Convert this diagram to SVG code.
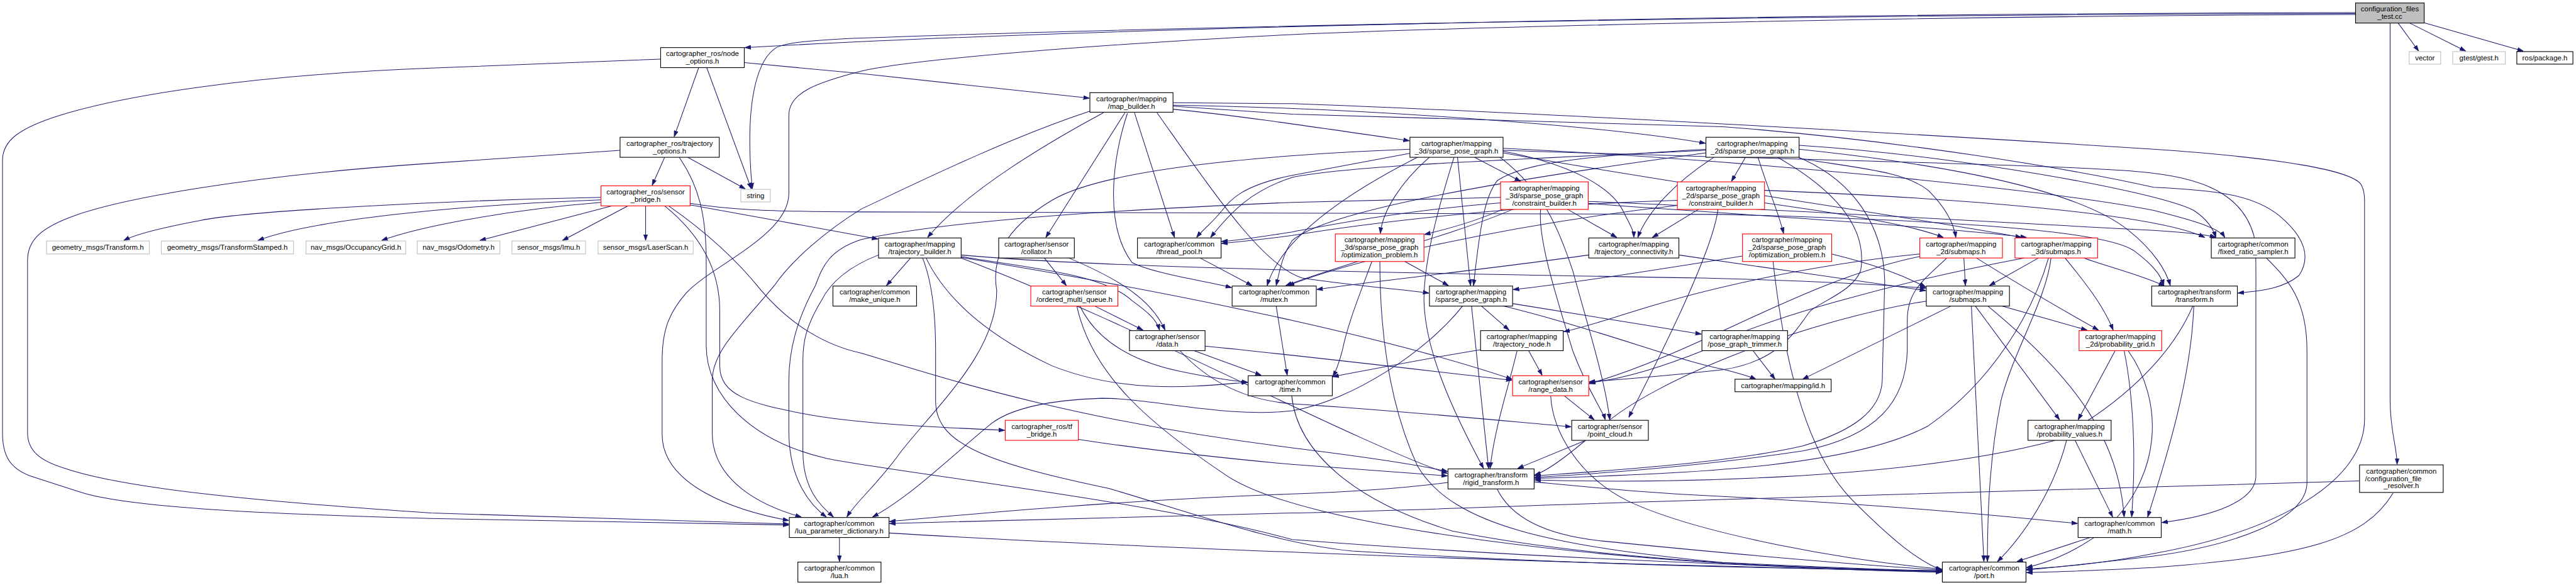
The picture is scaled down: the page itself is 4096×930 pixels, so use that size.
<svg xmlns="http://www.w3.org/2000/svg" width="4096" height="930" viewBox="0 0 4096 930">
<defs>
<marker id="a" markerWidth="12" markerHeight="9" refX="12" refY="4.5" orient="auto" markerUnits="userSpaceOnUse"><path d="M0,0.5 L12,4.5 L0,8.5 z" fill="#191970" stroke="#191970" stroke-width="1"/></marker>
<style>
.n rect{fill:#fff;stroke:#000;stroke-width:1.4}
.n.r rect{stroke:#f00}
.n.g rect{stroke:#bfbfbf}
.n.root rect{fill:#bfbfbf}
text{font-family:"Liberation Sans",Arial,sans-serif;font-size:14.4px;fill:#000;text-anchor:middle}
#edges path{fill:none;stroke:#191970;stroke-width:1.3;marker-end:url(#a)}
</style>
</defs>
<rect x="0" y="0" width="4096" height="930" fill="#fff"/>
<g transform="scale(0.7964)">
<g id="edges">
<path d="M4788,46 L4829,102"/>
<path d="M4811,46 L4923,102"/>
<path d="M4838,45 L5038,102"/>
<path d="M4772,46 L4772,800 C4772,860 4786,895 4786,927"/>
<path d="M4703,25 C3600,27 2300,50 1487,95"/>
<path d="M4703,27 C3500,29 2300,55 1720,76 C1620,80 1570,85 1550,95 C1510,120 1497,200 1497,280 C1497,330 1500,355 1502,377"/>
<path d="M4703,29 C3800,32 2900,55 2580,69 C2200,88 1820,118 1720,142 C1630,165 1575,185 1575,230 L1575,386 C1575,470 1420,530 1370,585 C1335,625 1322,660 1322,720 L1322,867 C1322,970 1470,1020 1575,1039"/>
<path d="M1319,118 L860,136 C500,150 250,190 120,230 C40,255 5,280 5,320 L5,864 C5,910 20,935 60,950 L159,982 C250,1012 500,1025 860,1035 L1575,1048"/>
<path d="M1395,135 L1346,273"/>
<path d="M1411,135 L1500,377"/>
<path d="M1486,125 L1720,147 L2175,196"/>
<path d="M1327,314 L1302,370"/>
<path d="M1373,314 L1488,377"/>
<path d="M1238,300 L860,326 C500,350 250,395 150,430 C80,455 55,480 55,520 L55,864 C55,900 80,920 130,935 C250,975 500,1000 860,1024 L1575,1046"/>
<path d="M1356,314 C1395,370 1410,430 1410,520 L1410,690 C1410,790 1500,880 1650,915 C1800,945 2300,1000 2580,1077 C3000,1110 3500,1130 3877,1141"/>
<path d="M1200,394 C900,400 500,420 400,440 C320,455 270,468 247,480"/>
<path d="M1200,399 C900,410 620,440 515,480"/>
<path d="M1200,404 C1000,420 830,455 762,480"/>
<path d="M1222,411 L958,480"/>
<path d="M1254,411 L1123,480"/>
<path d="M1289,411 L1289,480"/>
<path d="M1378,409 L1560,442 C1650,458 1700,468 1753,477"/>
<path d="M1378,406 C1450,418 1520,422 1720,423 L3440,428 C3900,440 4200,460 4260,500 C4300,530 4315,550 4320,570"/>
<path d="M1327,411 C1400,470 1437,540 1437,620 L1437,730 C1437,790 1500,805 1600,825 C1700,845 1850,852 2006,859"/>
<path d="M1335,411 C1420,470 1480,530 1520,580 C1580,650 1650,690 1720,705 C1900,760 2150,840 2580,894 C2750,915 2840,930 2890,941"/>
<path d="M2153,877 C2300,900 2500,920 2580,927 C2750,940 2840,946 2890,950"/>
<path d="M2203,225 C2100,280 1930,380 1852,474"/>
<path d="M2246,225 L2088,474"/>
<path d="M2265,225 L2345,474"/>
<path d="M2251,226 C2220,320 2205,450 2260,524 C2300,545 2400,560 2459,574"/>
<path d="M2176,222 C2000,280 1800,380 1720,417 C1650,460 1580,520 1546,570 C1480,650 1422,700 1422,760 L1422,864 C1422,960 1520,1010 1600,1032"/>
<path d="M2342,205 L2580,207 C3000,222 3800,265 4300,298 C4550,315 4700,340 4715,370 C4720,380 4721,390 4721,400 L4721,837 C4721,960 4550,1060 4300,1105 C4200,1125 4100,1133 4046,1136"/>
<path d="M2342,218 C2450,228 2600,250 2814,281"/>
<path d="M2342,210 C2700,215 3200,250 3405,286"/>
<path d="M2342,212 L2580,228 L3440,253 C3800,280 4150,340 4300,374 C4430,380 4500,390 4550,430 C4610,480 4610,520 4590,550 C4560,575 4520,580 4468,585"/>
<path d="M2310,225 C2420,380 2520,530 2600,555 C2700,570 2800,578 2853,585"/>
<path d="M2085,515 L2129,570"/>
<path d="M2134,515 C2240,560 2300,600 2326,659"/>
<path d="M1818,515 L1770,570"/>
<path d="M1754,509 C1700,530 1660,560 1640,600 C1610,650 1603,680 1603,720 L1603,900 C1603,980 1640,1010 1664,1032"/>
<path d="M1842,515 C1860,560 1868,620 1868,700 L1868,800 C1868,880 1950,920 2214,975 C2400,1030 2550,1085 2700,1100 C3100,1125 3500,1135 3877,1139"/>
<path d="M1849,515 C1880,580 1950,660 2100,730 C2250,790 2400,770 2491,763"/>
<path d="M1919,512 C2050,535 2200,545 2260,600 C2295,625 2310,640 2315,659"/>
<path d="M1919,509 C2200,535 2800,545 3400,555 C3600,560 3750,568 3845,575"/>
<path d="M1919,514 C2200,560 2700,650 3019,757"/>
<path d="M1919,515 C2250,640 2700,880 2890,945"/>
<path d="M2396,515 L2500,570"/>
<path d="M2186,611 L2282,659"/>
<path d="M2156,611 C2190,680 2260,720 2350,740 C2420,755 2460,760 2491,763"/>
<path d="M2150,611 C2180,750 2300,850 2450,950 C2600,1050 3200,1130 3877,1142"/>
<path d="M2384,700 L2518,749"/>
<path d="M2406,691 C2600,710 2850,740 3019,759"/>
<path d="M2356,700 C2420,770 2500,800 2580,806 C2800,820 3000,840 3137,852"/>
<path d="M2548,611 L2570,749"/>
<path d="M2579,790 C2590,900 2700,1000 2900,1060 C3200,1120 3600,1135 3877,1140"/>
<path d="M2944,314 L3036,362"/>
<path d="M2854,314 C2800,360 2760,420 2756,466"/>
<path d="M2910,314 L2936,570"/>
<path d="M2903,314 C2870,420 2843,520 2843,600 C2845,700 2900,820 2962,935"/>
<path d="M3001,302 C3150,330 3220,380 3240,420 C3255,450 3262,460 3262,474"/>
<path d="M2815,306 L2580,350 C2480,370 2455,400 2440,420 C2420,445 2400,460 2389,474"/>
<path d="M2830,314 C2700,380 2560,470 2530,570"/>
<path d="M2815,298 C2500,310 2200,340 2100,400 C2000,460 1980,520 1990,580 C1990,700 1880,800 1800,900 C1750,970 1710,1000 1691,1032"/>
<path d="M3001,296 C3500,320 4100,380 4300,420 C4380,440 4430,455 4442,474"/>
<path d="M3001,305 C3300,360 3800,430 4036,474"/>
<path d="M2995,314 C3080,380 3110,450 3140,540 C3170,650 3205,760 3214,838"/>
<path d="M3001,300 C3600,320 4200,330 4300,346 C4420,360 4480,400 4500,470 C4505,500 4504,530 4504,600 L4504,950 C4504,1000 4420,1030 4316,1043"/>
<path d="M3485,314 L3457,362"/>
<path d="M3510,314 C3530,380 3550,420 3561,466"/>
<path d="M3406,298 C3200,310 3050,320 2990,360 C2965,390 2955,450 2942,570"/>
<path d="M3422,314 C3350,360 3290,420 3270,474"/>
<path d="M3549,314 C3700,400 3725,480 3715,540 C3700,580 3640,600 3615,620 C3590,650 3560,720 3440,738 C3330,750 3230,758 3173,762"/>
<path d="M3591,314 C3700,360 3760,450 3763,560 L3758,760 C3755,820 3700,860 3600,890 C3450,925 3200,940 3064,950"/>
<path d="M3592,290 C3900,310 4300,380 4380,420 C4410,440 4420,460 4424,474"/>
<path d="M3592,316 C3700,335 3800,340 3850,380 C3880,410 3900,440 3905,474"/>
<path d="M3406,300 C3000,320 2700,330 2580,354 C2500,380 2460,420 2417,474"/>
<path d="M3406,305 C3000,360 2650,420 2580,480 C2560,510 2555,540 2548,570"/>
<path d="M3592,298 C3900,330 4150,380 4250,460 C4300,500 4325,540 4333,570"/>
<path d="M3130,418 L3228,474"/>
<path d="M2996,394 C2800,398 2650,402 2580,404 C2200,420 1900,440 1720,478 C1650,500 1640,540 1628,570 C1590,640 1575,700 1575,760 L1575,860 C1575,960 1620,1010 1650,1032"/>
<path d="M3000,418 C2950,440 2900,455 2844,468"/>
<path d="M3076,418 C3070,480 3110,600 3140,700 C3170,780 3200,820 3205,838"/>
<path d="M2996,405 C2800,420 2650,450 2580,463 C2500,475 2470,480 2439,482"/>
<path d="M3171,402 C3600,420 4100,450 4300,460 C4380,465 4410,470 4424,474"/>
<path d="M3171,406 C3500,430 3900,455 4046,474"/>
<path d="M3020,418 C2900,470 2700,520 2567,570"/>
<path d="M3391,418 L3299,474"/>
<path d="M3349,400 C3000,410 2700,450 2580,470 C2520,478 2480,482 2439,486"/>
<path d="M3523,380 C3900,395 4300,425 4402,474"/>
<path d="M3523,405 C3700,430 3820,450 3880,474"/>
<path d="M3349,410 C3000,450 2700,520 2572,570"/>
<path d="M3430,418 C3420,500 3320,700 3252,833"/>
<path d="M2805,522 L2892,570"/>
<path d="M2755,522 C2755,650 2770,800 2830,930 C2900,1050 3100,1090 3440,1123 C3700,1135 3800,1138 3877,1140"/>
<path d="M2739,522 C2710,600 2690,650 2680,700 C2672,730 2665,745 2661,752"/>
<path d="M3479,511 C3300,540 3100,570 3021,578"/>
<path d="M3540,522 C3560,700 3600,900 3700,1000 C3780,1080 3830,1120 3877,1138"/>
<path d="M3657,507 C3750,530 3800,550 3845,573"/>
<path d="M3172,509 C2950,540 2750,560 2629,578"/>
<path d="M3352,509 C3500,530 3700,560 3845,580"/>
<path d="M3921,515 L3924,570"/>
<path d="M3946,515 C4050,580 4120,620 4190,659"/>
<path d="M3833,507 C3600,530 3400,580 3300,610 C3200,640 3160,655 3122,662"/>
<path d="M3887,515 C3840,560 3808,580 3808,640 L3808,700 C3805,800 3750,870 3600,900 C3400,930 3200,945 3064,953"/>
<path d="M3833,512 C3600,560 3400,700 3173,766"/>
<path d="M4070,515 L3972,570"/>
<path d="M4161,515 C4200,530 4280,550 4322,571"/>
<path d="M4095,515 C4085,600 4020,700 3995,800 C3975,900 3968,1000 3968,1121"/>
<path d="M4090,515 C4060,620 3980,760 3850,850 C3700,930 3400,945 3064,955"/>
<path d="M4123,515 C4160,560 4200,610 4219,659"/>
<path d="M4041,515 C3800,560 3500,640 3400,700 C3300,740 3230,758 3173,764"/>
<path d="M4525,515 C4570,560 4606,600 4606,700 L4606,963 C4606,1040 4450,1090 4300,1110 C4180,1125 4100,1132 4046,1138"/>
<path d="M4378,611 C4340,700 4250,800 4100,880 C3800,960 3300,965 3064,958"/>
<path d="M4380,611 C4375,750 4330,900 4288,1032"/>
<path d="M3052,700 L3079,749"/>
<path d="M3029,700 C3010,780 2985,850 2975,935"/>
<path d="M2956,698 C2850,715 2750,735 2661,752"/>
<path d="M2958,611 L3013,659"/>
<path d="M2938,611 L2972,935"/>
<path d="M2920,611 C2850,700 2700,800 2580,820 C2450,835 2300,795 2200,795 C2050,800 2000,830 1980,845 C1900,910 1820,990 1742,1032"/>
<path d="M3002,611 C3200,660 3350,720 3440,737 C3470,745 3490,750 3506,757"/>
<path d="M3020,606 L3397,667"/>
<path d="M3123,790 L3183,838"/>
<path d="M3096,790 C3100,860 3150,950 3250,1000 C3400,1070 3700,1120 3877,1136"/>
<path d="M3166,879 L3030,935"/>
<path d="M3500,700 L3544,757"/>
<path d="M3895,611 L3599,757"/>
<path d="M3936,611 L3961,1121"/>
<path d="M3944,611 L4112,838"/>
<path d="M3969,611 C4150,760 4230,880 4241,1032"/>
<path d="M3997,611 L4167,659"/>
<path d="M3846,601 C3600,640 3300,760 3200,850 C3130,910 3090,940 3064,948"/>
<path d="M4223,700 L4149,838"/>
<path d="M4241,700 C4265,820 4262,950 4256,1032"/>
<path d="M4249,700 C4320,800 4320,950 4200,1060 C4130,1110 4080,1125 4046,1133"/>
<path d="M4143,879 L4218,1032"/>
<path d="M4126,879 C4100,980 4040,1070 3988,1121"/>
<path d="M4173,1073 L4027,1121"/>
<path d="M4711,960 L4300,972 L3440,997 C3000,1010 2800,1020 2580,1024 L1776,1045"/>
<path d="M4778,984 C4720,1080 4600,1110 4300,1133 C4200,1138 4100,1142 4046,1143"/>
<path d="M2891,963 C2800,975 2700,982 2580,986 C2200,1000 1900,1030 1776,1041"/>
<path d="M3063,962 C3200,975 3300,985 3440,991 C3800,1010 4000,1030 4148,1045"/>
<path d="M2989,976 C3020,1040 3100,1070 3200,1080 C3500,1110 3750,1130 3877,1138"/>
<path d="M1676,1073 L1676,1121"/>
<path d="M1775,1064 C2200,1090 3000,1120 3440,1130 C3700,1137 3800,1140 3877,1142"/>
</g>
<g id="n_root" class="n root"><rect x="4703" y="6" width="137" height="40"/><text x="4771.5" y="23">configuration_files</text><text x="4771.5" y="38">_test.cc</text></g>
<g id="n_vector" class="n g"><rect x="4810" y="103" width="63" height="25"/><text x="4841.5" y="120.5">vector</text></g>
<g id="n_gtest" class="n g"><rect x="4897" y="103" width="105" height="25"/><text x="4949.5" y="120.5">gtest/gtest.h</text></g>
<g id="n_rospackage" class="n"><rect x="5025" y="103" width="112" height="25"/><text x="5081" y="120.5">ros/package.h</text></g>
<g id="n_node_options" class="n"><rect x="1319" y="95" width="167" height="40"/><text x="1402.5" y="112">cartographer_ros/node</text><text x="1402.5" y="127">_options.h</text></g>
<g id="n_trajectory_options" class="n"><rect x="1238" y="274" width="198" height="40"/><text x="1337" y="291">cartographer_ros/trajectory</text><text x="1337" y="306">_options.h</text></g>
<g id="n_string" class="n g"><rect x="1479" y="378" width="59" height="25"/><text x="1508.5" y="395.5">string</text></g>
<g id="n_sensor_bridge" class="n r"><rect x="1200" y="371" width="178" height="40"/><text x="1289" y="388">cartographer_ros/sensor</text><text x="1289" y="403">_bridge.h</text></g>
<g id="n_gm_transform" class="n g"><rect x="93" y="481" width="205" height="26"/><text x="195.5" y="499">geometry_msgs/Transform.h</text></g>
<g id="n_gm_transformstamped" class="n g"><rect x="322" y="481" width="264" height="26"/><text x="454" y="499">geometry_msgs/TransformStamped.h</text></g>
<g id="n_occupancygrid" class="n g"><rect x="611" y="481" width="199" height="26"/><text x="710.5" y="499">nav_msgs/OccupancyGrid.h</text></g>
<g id="n_odometry" class="n g"><rect x="833" y="481" width="165" height="26"/><text x="915.5" y="499">nav_msgs/Odometry.h</text></g>
<g id="n_imu" class="n g"><rect x="1022" y="481" width="147" height="26"/><text x="1095.5" y="499">sensor_msgs/Imu.h</text></g>
<g id="n_laserscan" class="n g"><rect x="1194" y="481" width="190" height="26"/><text x="1289" y="499">sensor_msgs/LaserScan.h</text></g>
<g id="n_map_builder" class="n"><rect x="2176" y="185" width="166" height="39"/><text x="2259" y="202">cartographer/mapping</text><text x="2259" y="217">/map_builder.h</text></g>
<g id="n_3d_spg" class="n"><rect x="2815" y="274" width="186" height="40"/><text x="2908" y="291">cartographer/mapping</text><text x="2908" y="306">_3d/sparse_pose_graph.h</text></g>
<g id="n_2d_spg" class="n"><rect x="3406" y="274" width="186" height="40"/><text x="3499" y="291">cartographer/mapping</text><text x="3499" y="306">_2d/sparse_pose_graph.h</text></g>
<g id="n_3d_cb" class="n r"><rect x="2996" y="363" width="175" height="55"/><text x="3083.5" y="380">cartographer/mapping</text><text x="3083.5" y="395">_3d/sparse_pose_graph</text><text x="3083.5" y="410">/constraint_builder.h</text></g>
<g id="n_2d_cb" class="n r"><rect x="3349" y="363" width="174" height="55"/><text x="3436" y="380">cartographer/mapping</text><text x="3436" y="395">_2d/sparse_pose_graph</text><text x="3436" y="410">/constraint_builder.h</text></g>
<g id="n_3d_op" class="n r"><rect x="2666" y="467" width="177" height="55"/><text x="2754.5" y="484">cartographer/mapping</text><text x="2754.5" y="499">_3d/sparse_pose_graph</text><text x="2754.5" y="514">/optimization_problem.h</text></g>
<g id="n_2d_op" class="n r"><rect x="3479" y="467" width="178" height="55"/><text x="3568" y="484">cartographer/mapping</text><text x="3568" y="499">_2d/sparse_pose_graph</text><text x="3568" y="514">/optimization_problem.h</text></g>
<g id="n_trajectory_builder" class="n"><rect x="1754" y="475" width="165" height="40"/><text x="1836.5" y="492">cartographer/mapping</text><text x="1836.5" y="507">/trajectory_builder.h</text></g>
<g id="n_collator" class="n"><rect x="1994" y="475" width="151" height="40"/><text x="2069.5" y="492">cartographer/sensor</text><text x="2069.5" y="507">/collator.h</text></g>
<g id="n_thread_pool" class="n"><rect x="2271" y="475" width="167" height="40"/><text x="2354.5" y="492">cartographer/common</text><text x="2354.5" y="507">/thread_pool.h</text></g>
<g id="n_traj_conn" class="n"><rect x="3172" y="475" width="180" height="40"/><text x="3262" y="492">cartographer/mapping</text><text x="3262" y="507">/trajectory_connectivity.h</text></g>
<g id="n_2d_submaps" class="n r"><rect x="3833" y="475" width="165" height="40"/><text x="3915.5" y="492">cartographer/mapping</text><text x="3915.5" y="507">_2d/submaps.h</text></g>
<g id="n_3d_submaps" class="n r"><rect x="4023" y="475" width="165" height="40"/><text x="4105.5" y="492">cartographer/mapping</text><text x="4105.5" y="507">_3d/submaps.h</text></g>
<g id="n_fixed_ratio" class="n"><rect x="4415" y="475" width="167" height="40"/><text x="4498.5" y="492">cartographer/common</text><text x="4498.5" y="507">/fixed_ratio_sampler.h</text></g>
<g id="n_make_unique" class="n"><rect x="1663" y="571" width="167" height="40"/><text x="1746.5" y="588">cartographer/common</text><text x="1746.5" y="603">/make_unique.h</text></g>
<g id="n_omq" class="n r"><rect x="2058" y="571" width="174" height="40"/><text x="2145" y="588">cartographer/sensor</text><text x="2145" y="603">/ordered_multi_queue.h</text></g>
<g id="n_mutex" class="n"><rect x="2460" y="571" width="168" height="40"/><text x="2544" y="588">cartographer/common</text><text x="2544" y="603">/mutex.h</text></g>
<g id="n_spg" class="n"><rect x="2854" y="571" width="166" height="40"/><text x="2937" y="588">cartographer/mapping</text><text x="2937" y="603">/sparse_pose_graph.h</text></g>
<g id="n_submaps" class="n"><rect x="3846" y="571" width="166" height="40"/><text x="3929" y="588">cartographer/mapping</text><text x="3929" y="603">/submaps.h</text></g>
<g id="n_transform" class="n"><rect x="4296" y="571" width="171" height="40"/><text x="4381.5" y="588">cartographer/transform</text><text x="4381.5" y="603">/transform.h</text></g>
<g id="n_data" class="n"><rect x="2255" y="660" width="151" height="40"/><text x="2330.5" y="677">cartographer/sensor</text><text x="2330.5" y="692">/data.h</text></g>
<g id="n_traj_node" class="n"><rect x="2956" y="660" width="165" height="40"/><text x="3038.5" y="677">cartographer/mapping</text><text x="3038.5" y="692">/trajectory_node.h</text></g>
<g id="n_pgt" class="n"><rect x="3398" y="660" width="171" height="40"/><text x="3483.5" y="677">cartographer/mapping</text><text x="3483.5" y="692">/pose_graph_trimmer.h</text></g>
<g id="n_prob_grid" class="n r"><rect x="4151" y="660" width="165" height="40"/><text x="4233.5" y="677">cartographer/mapping</text><text x="4233.5" y="692">_2d/probability_grid.h</text></g>
<g id="n_time" class="n"><rect x="2492" y="750" width="168" height="40"/><text x="2576" y="767">cartographer/common</text><text x="2576" y="782">/time.h</text></g>
<g id="n_range_data" class="n r"><rect x="3020" y="750" width="152" height="40"/><text x="3096" y="767">cartographer/sensor</text><text x="3096" y="782">/range_data.h</text></g>
<g id="n_id" class="n"><rect x="3464" y="757" width="192" height="25"/><text x="3560" y="774.5">cartographer/mapping/id.h</text></g>
<g id="n_tf_bridge" class="n r"><rect x="2007" y="839" width="146" height="40"/><text x="2080" y="856">cartographer_ros/tf</text><text x="2080" y="871">_bridge.h</text></g>
<g id="n_point_cloud" class="n"><rect x="3138" y="839" width="153" height="40"/><text x="3214.5" y="856">cartographer/sensor</text><text x="3214.5" y="871">/point_cloud.h</text></g>
<g id="n_prob_values" class="n"><rect x="4049" y="839" width="166" height="40"/><text x="4132" y="856">cartographer/mapping</text><text x="4132" y="871">/probability_values.h</text></g>
<g id="n_cfr" class="n"><rect x="4711" y="928" width="167" height="55"/><text x="4794.5" y="945">cartographer/common</text><text x="4722" y="960" style="text-anchor:start">/configuration_file</text><text x="4794.5" y="975">_resolver.h</text></g>
<g id="n_rigid" class="n"><rect x="2891" y="936" width="172" height="40"/><text x="2977" y="953">cartographer/transform</text><text x="2977" y="968">/rigid_transform.h</text></g>
<g id="n_lpd" class="n"><rect x="1576" y="1033" width="199" height="40"/><text x="1675.5" y="1050">cartographer/common</text><text x="1675.5" y="1065">/lua_parameter_dictionary.h</text></g>
<g id="n_math" class="n"><rect x="4149" y="1033" width="166" height="40"/><text x="4232" y="1050">cartographer/common</text><text x="4232" y="1065">/math.h</text></g>
<g id="n_lua" class="n"><rect x="1593" y="1122" width="166" height="40"/><text x="1676" y="1139">cartographer/common</text><text x="1676" y="1154">/lua.h</text></g>
<g id="n_port" class="n"><rect x="3878" y="1122" width="167" height="40"/><text x="3961.5" y="1139">cartographer/common</text><text x="3961.5" y="1154">/port.h</text></g>
</g>
</svg>
